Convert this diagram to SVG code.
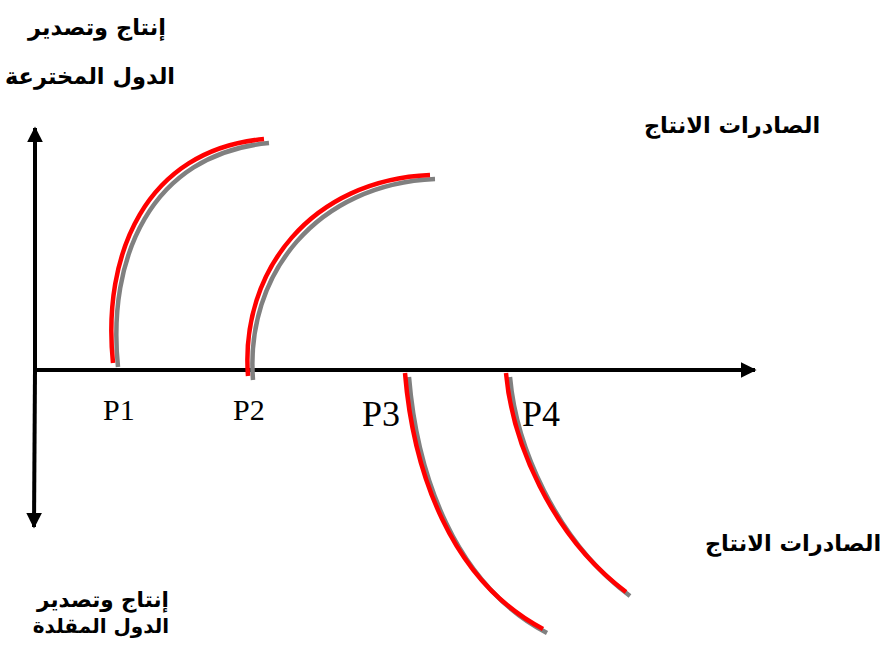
<svg xmlns="http://www.w3.org/2000/svg" width="887" height="646" viewBox="0 0 887 646">
<style>
.ar{font-family:"DejaVu Sans","Noto Sans",sans-serif;font-weight:bold;font-size:22.5px;fill:#000;text-anchor:middle}
.p{font-family:"Liberation Serif","Times New Roman",serif;fill:#000}
.axis{stroke:#000;stroke-width:4;fill:none}
.sh{stroke:#808080;stroke-width:4.5;fill:none}
.rd{stroke:#ff0000;stroke-width:4.5;fill:none}
</style>
<defs>
<marker id="ah" viewBox="0 0 10 10" refX="9" refY="5" markerWidth="4" markerHeight="4" orient="auto" markerUnits="strokeWidth">
<path d="M0,0 L10,5 L0,10 Z" fill="#000"/>
</marker>
</defs>
<g id="connectors">
<line class="axis" x1="35" y1="370" x2="35" y2="128" marker-end="url(#ah)"/>
<line class="axis" x1="35" y1="370" x2="34" y2="527" marker-end="url(#ah)"/>
<line class="axis" x1="33" y1="370" x2="755" y2="370" marker-end="url(#ah)"/>
</g>
<g id="curve1">
<path class="sh" transform="translate(5,4)" d="M113,363 C102,255 145,150 264,139"/>
<path class="rd" d="M113,363 C102,255 145,150 264,139"/>
</g>
<g id="curve2">
<path class="sh" transform="translate(5,4)" d="M248,376 C240,270 312,180 430,175"/>
<path class="rd" d="M248,376 C240,270 312,180 430,175"/>
</g>
<g id="curve3">
<path class="sh" transform="translate(4,4)" d="M405,373 C413,470 450,580 543,629"/>
<path class="rd" d="M405,373 C413,470 450,580 543,629"/>
</g>
<g id="curve4">
<path class="sh" transform="translate(4,4)" d="M506,373 C512,440 550,535 626,592"/>
<path class="rd" d="M506,373 C512,440 550,535 626,592"/>
</g>
<g id="labels">
<text class="ar" x="97" y="35">إنتاج وتصدير</text>
<text class="ar" x="90" y="84">الدول المخترعة</text>
<text class="ar" x="732" y="133">الصادرات الانتاج</text>
<text class="ar" x="793" y="551">الصادرات الانتاج</text>
<text class="ar" x="103" y="607" style="font-size:21.5px">إنتاج وتصدير</text>
<text class="ar" x="101" y="633" style="font-size:20px">الدول المقلدة</text>
<text class="p" x="103" y="420" font-size="30">P1</text>
<text class="p" x="233" y="420" font-size="30">P2</text>
<text class="p" x="362" y="426" font-size="36">P3</text>
<text class="p" x="522" y="426" font-size="36">P4</text>
</g>
</svg>
